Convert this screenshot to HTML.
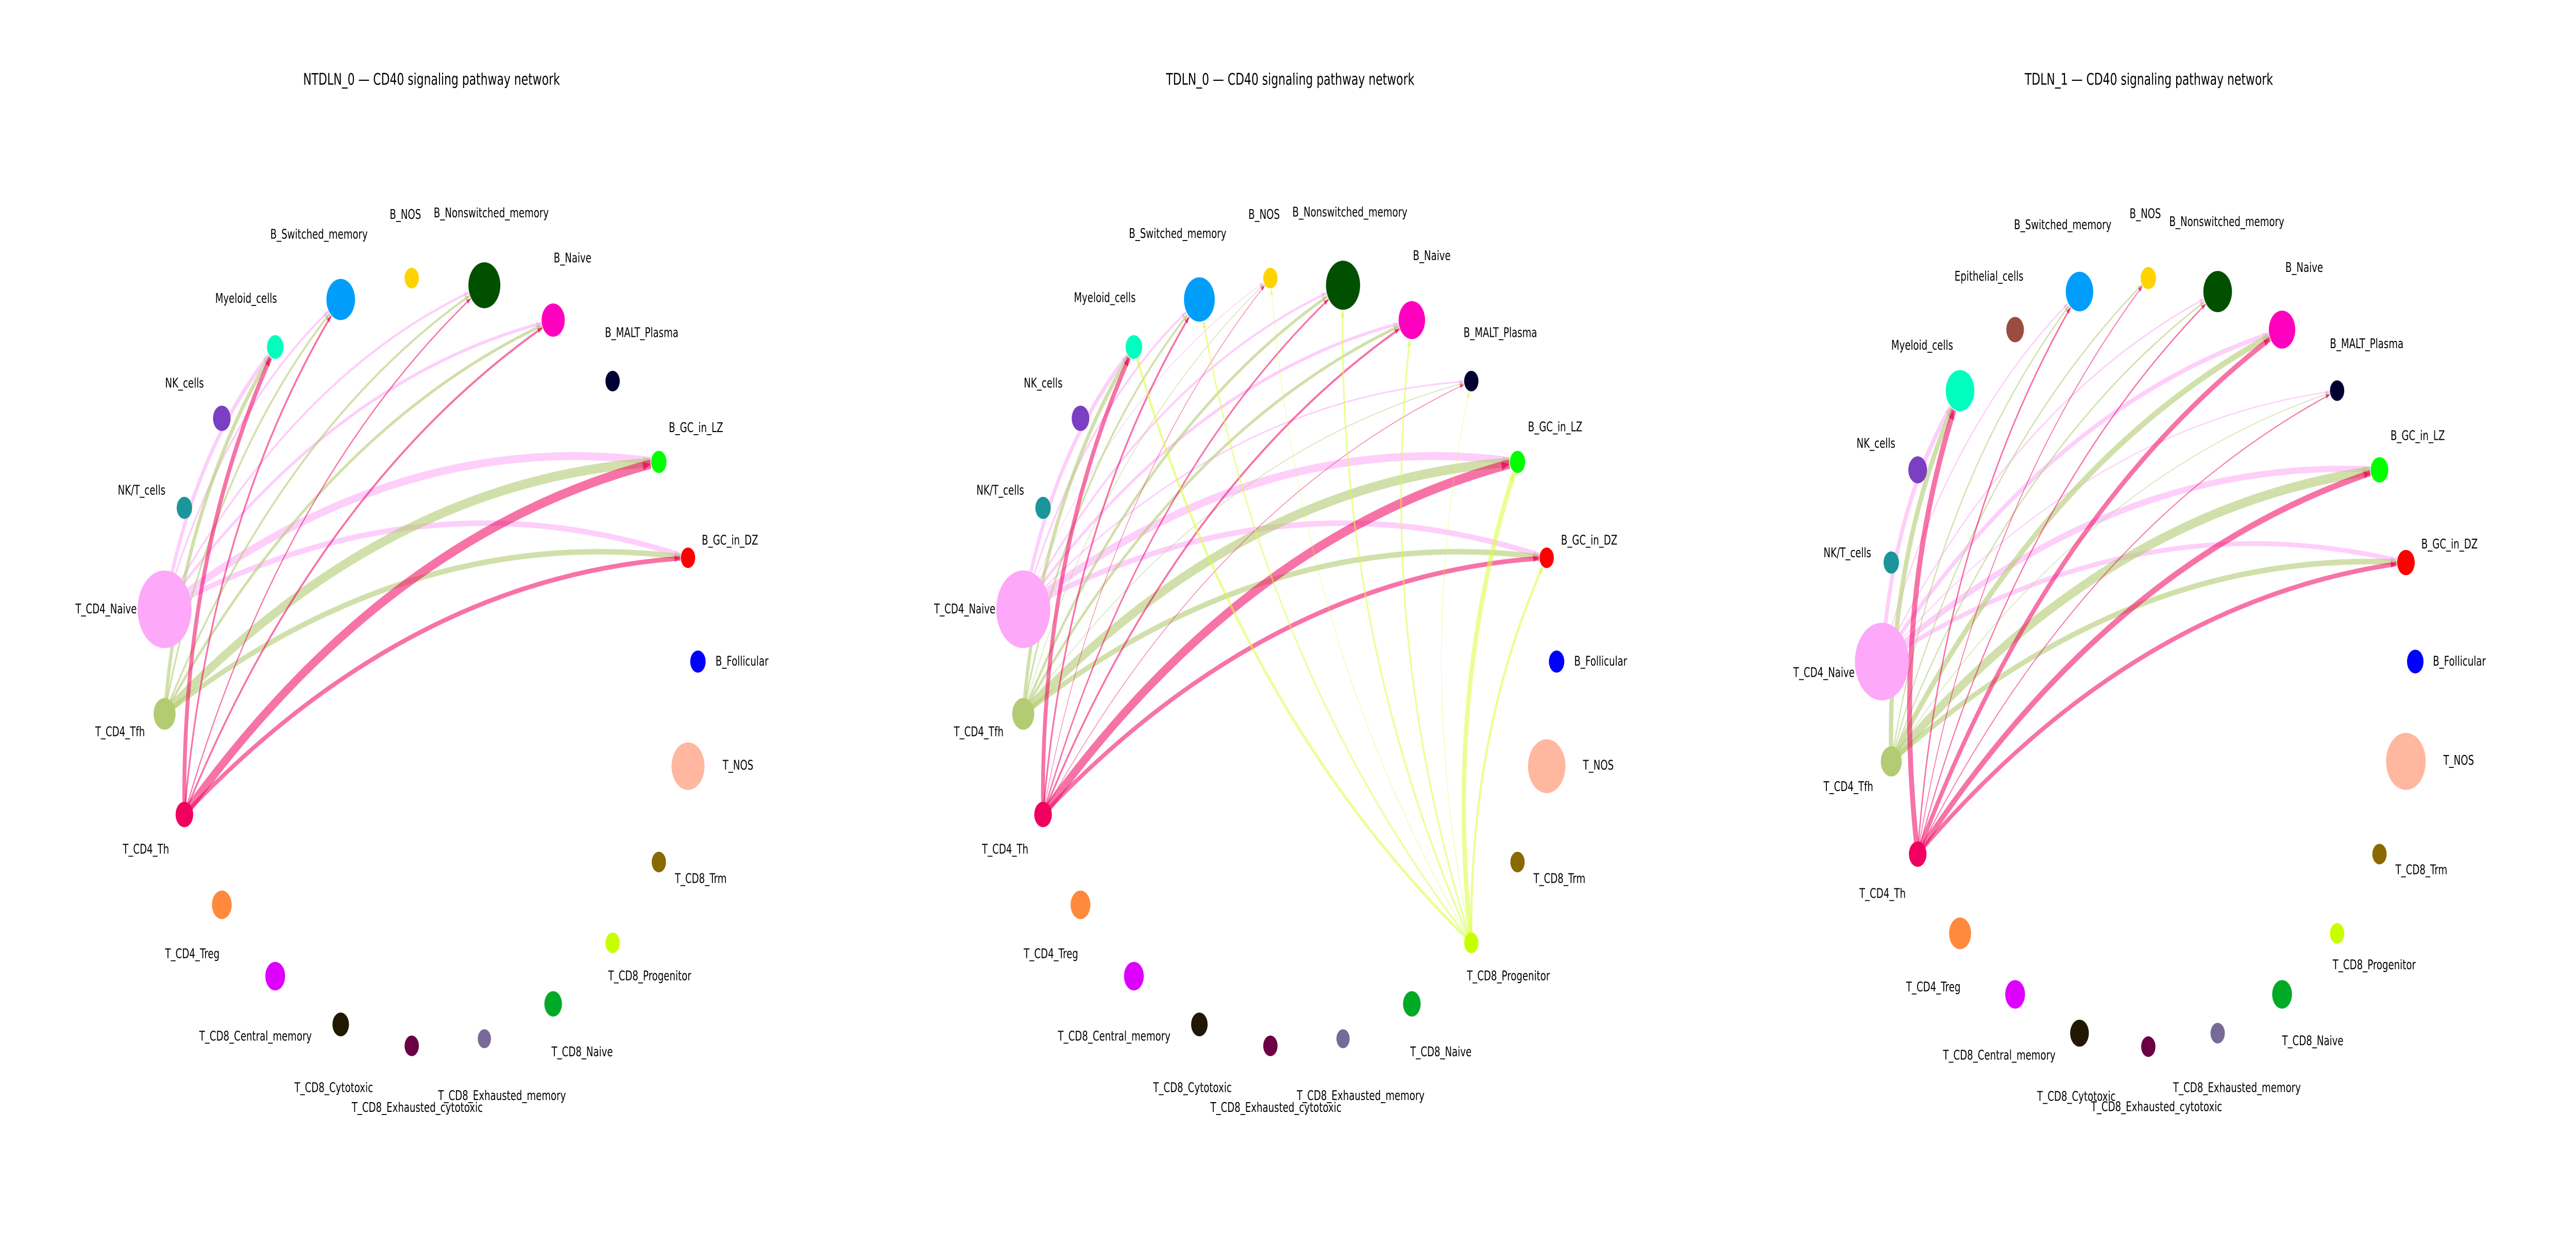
<!DOCTYPE html>
<html><head><meta charset="utf-8"><style>
html,body{margin:0;padding:0;background:#fff;width:100%;height:100%;overflow:hidden;}
svg{display:block;position:fixed;left:0;top:0;width:100vw;height:100vh;}
text{font-family:"DejaVu Sans","Liberation Sans",sans-serif;fill:#000;}
.t{font-size:20.5px;text-anchor:middle;}
.l{font-size:17px;dominant-baseline:central;}
</style></head><body>
<svg id="s" viewBox="0 0 7200 2400" preserveAspectRatio="none" xmlns="http://www.w3.org/2000/svg">
<rect width="7200" height="2400" fill="#fff"/>
<g transform="scale(1.53846)">
<g id="edges"></g>
<g id="nodes"></g>
<g>
<text class="t" x="784" y="107">NTDLN_0 — CD40 signaling pathway network</text>
<text class="l" x="491" y="296">B_Switched_memory</text>
<text class="l" x="708" y="271">B_NOS</text>
<text class="l" x="788" y="269">B_Nonswitched_memory</text>
<text class="l" x="1006" y="326">B_Naive</text>
<text class="l" x="391" y="377">Myeloid_cells</text>
<text class="l" x="1099" y="420">B_MALT_Plasma</text>
<text class="l" x="300" y="484">NK_cells</text>
<text class="l" x="1215" y="540">B_GC_in_LZ</text>
<text class="l" x="214" y="619">NK/T_cells</text>
<text class="l" x="1275" y="682">B_GC_in_DZ</text>
<text class="l" x="137" y="769">T_CD4_Naive</text>
<text class="l" x="1300" y="835">B_Follicular</text>
<text class="l" x="173" y="924">T_CD4_Tfh</text>
<text class="l" x="1313" y="966">T_NOS</text>
<text class="l" x="223" y="1072">T_CD4_Th</text>
<text class="l" x="1226" y="1109">T_CD8_Trm</text>
<text class="l" x="300" y="1204">T_CD4_Treg</text>
<text class="l" x="1105" y="1232">T_CD8_Progenitor</text>
<text class="l" x="362" y="1308">T_CD8_Central_memory</text>
<text class="l" x="1002" y="1328">T_CD8_Naive</text>
<text class="l" x="535" y="1373">T_CD8_Cytotoxic</text>
<text class="l" x="796" y="1383">T_CD8_Exhausted_memory</text>
<text class="l" x="639" y="1398">T_CD8_Exhausted_cytotoxic</text>
</g>
<g transform="translate(1560,0)">
<text class="t" x="784" y="107">TDLN_0 — CD40 signaling pathway network</text>
<text class="l" x="491" y="295">B_Switched_memory</text>
<text class="l" x="708" y="271">B_NOS</text>
<text class="l" x="788" y="268">B_Nonswitched_memory</text>
<text class="l" x="1007" y="323">B_Naive</text>
<text class="l" x="391" y="376">Myeloid_cells</text>
<text class="l" x="1099" y="420">B_MALT_Plasma</text>
<text class="l" x="300" y="484">NK_cells</text>
<text class="l" x="1216" y="539">B_GC_in_LZ</text>
<text class="l" x="214" y="619">NK/T_cells</text>
<text class="l" x="1276" y="682">B_GC_in_DZ</text>
<text class="l" x="137" y="769">T_CD4_Naive</text>
<text class="l" x="1300" y="835">B_Follicular</text>
<text class="l" x="173" y="924">T_CD4_Tfh</text>
<text class="l" x="1316" y="966">T_NOS</text>
<text class="l" x="224" y="1072">T_CD4_Th</text>
<text class="l" x="1226" y="1109">T_CD8_Trm</text>
<text class="l" x="300" y="1204">T_CD4_Treg</text>
<text class="l" x="1105" y="1232">T_CD8_Progenitor</text>
<text class="l" x="362" y="1308">T_CD8_Central_memory</text>
<text class="l" x="1002" y="1328">T_CD8_Naive</text>
<text class="l" x="535" y="1373">T_CD8_Cytotoxic</text>
<text class="l" x="796" y="1383">T_CD8_Exhausted_memory</text>
<text class="l" x="639" y="1398">T_CD8_Exhausted_cytotoxic</text>
</g>
<g transform="translate(3120,0)">
<text class="t" x="784" y="107">TDLN_1 — CD40 signaling pathway network</text>
<text class="l" x="539" y="284">B_Switched_memory</text>
<text class="l" x="749" y="270">B_NOS</text>
<text class="l" x="821" y="280">B_Nonswitched_memory</text>
<text class="l" x="1032" y="338">B_Naive</text>
<text class="l" x="431" y="349">Epithelial_cells</text>
<text class="l" x="1113" y="434">B_MALT_Plasma</text>
<text class="l" x="316" y="436">Myeloid_cells</text>
<text class="l" x="1223" y="550">B_GC_in_LZ</text>
<text class="l" x="253" y="560">NK_cells</text>
<text class="l" x="1279" y="687">B_GC_in_DZ</text>
<text class="l" x="193" y="698">NK/T_cells</text>
<text class="l" x="138" y="849">T_CD4_Naive</text>
<text class="l" x="1300" y="835">B_Follicular</text>
<text class="l" x="193" y="993">T_CD4_Tfh</text>
<text class="l" x="1319" y="960">T_NOS</text>
<text class="l" x="258" y="1128">T_CD4_Th</text>
<text class="l" x="1232" y="1098">T_CD8_Trm</text>
<text class="l" x="343" y="1246">T_CD4_Treg</text>
<text class="l" x="1118" y="1218">T_CD8_Progenitor</text>
<text class="l" x="410" y="1332">T_CD8_Central_memory</text>
<text class="l" x="1026" y="1314">T_CD8_Naive</text>
<text class="l" x="581" y="1384">T_CD8_Cytotoxic</text>
<text class="l" x="828" y="1373">T_CD8_Exhausted_memory</text>
<text class="l" x="679" y="1397">T_CD8_Exhausted_cytotoxic</text>
</g>
</g>
</svg>
<script>
var C={Sw:"#009EFA",NOS:"#FFD300",Non:"#005000",BN:"#FF00BE",MALT:"#000033",LZ:"#00FF00",DZ:"#FF0000",Fol:"#0000FF",TNOS:"#FFB7A0",Trm:"#8A6A00",Pro:"#C8FF00",CN:"#00AA26",EM:"#776A97",EC:"#6B0045",Cy:"#201800",CM:"#DD00FF",Tr:"#FF8A3D",Th:"#F0005F",Tfh:"#B3CB72",Na:"#FDA8F8",NKT:"#1B9599",NK:"#7A3FC3",My:"#00FFBE",Ep:"#9A4C40"};
var P1={Sw:[619,378,26],NOS:[748,351,13],Non:[880,360,29],BN:[1005,404,21],MALT:[1113,481,13],LZ:[1197,583,14],DZ:[1250,704,13],Fol:[1268,835,14],TNOS:[1250,967,30],Trm:[1197,1088,13],Pro:[1113,1190,13],CN:[1005,1267,16],EM:[880,1311,12],EC:[748,1320,13],Cy:[619,1293,15],CM:[500,1232,18],Tr:[403,1142,18],Th:[335,1028,16],Tfh:[299,901,20],Na:[299,769,49],NKT:[335,641,14],NK:[403,528,16],My:[500,438,15]};
var P2=JSON.parse(JSON.stringify(P1));P2.Non[2]=31;P2.BN[2]=24;P2.TNOS[2]=34;P2.Sw[2]=28;
var P3={Sw:[658,368,25],NOS:[783,351,14],Non:[909,368,26],BN:[1026,416,24],MALT:[1126,493,13],LZ:[1203,593,16],DZ:[1251,710,16],Fol:[1268,835,15],TNOS:[1251,961,36],Trm:[1203,1078,13],Pro:[1126,1178,13],CN:[1026,1255,18],EM:[909,1304,13],EC:[783,1321,13],Cy:[658,1304,17],CM:[541,1255,18],Tr:[441,1178,20],Th:[364,1078,16],Tfh:[316,961,19],Na:[299,835,49],NKT:[316,710,14],NK:[364,593,17],My:[441,493,26],Ep:[541,416,16]};
var E1=[["Na","My",6],["Na","Sw",3],["Na","Non",3],["Na","BN",4],["Na","LZ",10],["Na","DZ",7],
["Tfh","My",6],["Tfh","Sw",3],["Tfh","Non",3],["Tfh","BN",4],["Tfh","LZ",12],["Tfh","DZ",7],
["Th","My",7],["Th","Sw",3],["Th","Non",2],["Th","BN",3],["Th","LZ",12],["Th","DZ",6]];
var E2=[["Na","My",6],["Na","Sw",3],["Na","NOS",1],["Na","Non",3],["Na","BN",4],["Na","MALT",2],["Na","LZ",10],["Na","DZ",7],
["Tfh","My",6],["Tfh","Sw",3],["Tfh","NOS",1],["Tfh","Non",4],["Tfh","BN",4],["Tfh","MALT",1],["Tfh","LZ",12],["Tfh","DZ",7],
["Th","My",7],["Th","Sw",3],["Th","NOS",1],["Th","Non",2.5],["Th","BN",3],["Th","MALT",1],["Th","LZ",12],["Th","DZ",6],
["Pro","My",4],["Pro","Sw",2.5],["Pro","NOS",1],["Pro","Non",3],["Pro","BN",3],["Pro","MALT",1],["Pro","LZ",8],["Pro","DZ",4]];
var E3=[["Na","My",7],["Na","Sw",2],["Na","Non",2],["Na","BN",6],["Na","MALT",1.5],["Na","LZ",8],["Na","DZ",6],
["Tfh","My",8],["Tfh","Sw",2],["Tfh","NOS",2],["Tfh","Non",2],["Tfh","BN",8],["Tfh","MALT",1],["Tfh","LZ",12],["Tfh","DZ",7],
["Th","My",9],["Th","Sw",2.5],["Th","NOS",1.5],["Th","Non",2],["Th","BN",7],["Th","MALT",1.5],["Th","LZ",8],["Th","DZ",6]];
var EC2={Na:"#FDA8F8",Tfh:"#B3CB72",Th:"#F0005F",Pro:"#D9FF3A"};
var ns="http://www.w3.org/2000/svg",eg=document.getElementById("edges"),ng=document.getElementById("nodes");
function draw(P,E,ox){
 var g=document.createElementNS(ns,"g");g.setAttribute("transform","translate("+ox+",0)");eg.appendChild(g);
 E.forEach(function(e){var a=P[e[0]],b=P[e[1]],f=0.15;
  var dx=b[0]-a[0],dy=b[1]-a[1];
  var mx=(a[0]+b[0])/2,my=(a[1]+b[1])/2,cx=mx+f*dy,cy=my-f*dx;
  var ex=b[0]-cx,ey=b[1]-cy,el=Math.hypot(ex,ey),r=b[2]+1;
  var tx=b[0]-ex/el*r,ty=b[1]-ey/el*r;
  var p=document.createElementNS(ns,"path");
  p.setAttribute("d","M"+a[0]+","+a[1]+" Q"+cx+","+cy+" "+tx+","+ty);
  p.setAttribute("fill","none");p.setAttribute("stroke",EC2[e[0]]);
  p.setAttribute("stroke-width",e[2]);p.setAttribute("stroke-opacity",e[0]=="Tfh"?0.6:0.55);
  g.appendChild(p);
  var ux=ex/el,uy=ey/el,s=4+e[2]*0.4;
  var ar=document.createElementNS(ns,"path");
  ar.setAttribute("d","M"+tx+","+ty+" L"+(tx-ux*s*1.6-uy*s*0.6)+","+(ty-uy*s*1.6+ux*s*0.6)+" L"+(tx-ux*s*1.6+uy*s*0.6)+","+(ty-uy*s*1.6-ux*s*0.6)+"Z");
  ar.setAttribute("fill",EC2[e[0]]);ar.setAttribute("fill-opacity",0.7);g.appendChild(ar);
 });
 var h=document.createElementNS(ns,"g");h.setAttribute("transform","translate("+ox+",0)");ng.appendChild(h);
 for(var k in P){var c=document.createElementNS(ns,"circle");c.setAttribute("cx",P[k][0]);c.setAttribute("cy",P[k][1]);c.setAttribute("r",P[k][2]);c.setAttribute("fill",C[k]);h.appendChild(c);}
}
draw(P1,E1,0);draw(P2,E2,1560);draw(P3,E3,3120);
</script>
</body></html>
